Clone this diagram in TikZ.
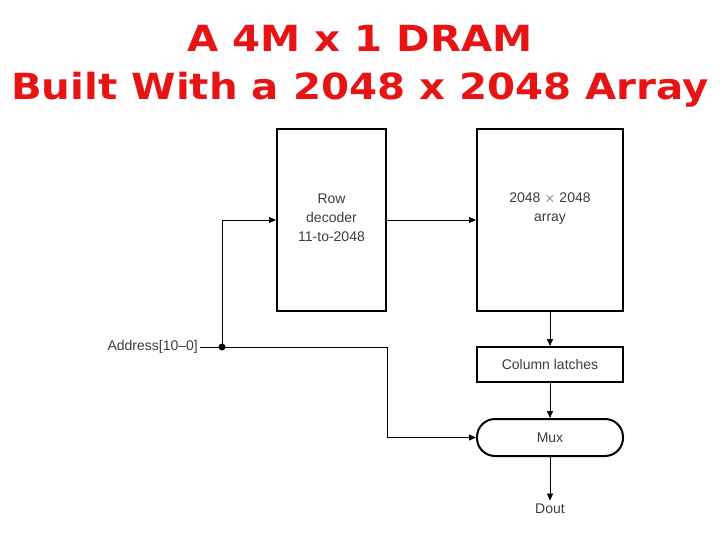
\documentclass[tikz,border=0pt]{standalone}
\usepackage{fontspec}
\setmainfont{Liberation Sans}
\newfontfamily\titlefont{DejaVu Sans}
\usetikzlibrary{arrows.meta}
\definecolor{titlered}{RGB}{230,20,20}
\definecolor{txt}{RGB}{60,60,60}
\begin{document}
\begin{tikzpicture}[x=1pt,y=-1pt,
  blk/.style={draw,line width=2pt,inner sep=0pt},
  lbl/.style={font=\fontsize{14}{19}\selectfont,text=txt,align=center},
  conn/.style={line width=0.8pt,-{Triangle[length=7pt,width=6pt]}},
  wire/.style={line width=0.8pt},
  ttl/.style={font=\titlefont\bfseries\fontsize{36}{38}\selectfont,text=titlered,xscale=1.12}]
\useasboundingbox (0,0) rectangle (720,540);
\node[ttl] (t1) at (360,38) {A 4M x 1 DRAM};
\node[ttl] (t2) at (360,90) {Built With a 2048 x 2048 Array};
\node[blk,minimum width=109pt,minimum height=182pt] (rd) at (331.5,220) {};
\node[lbl] at (331.5,218) {Row\\decoder\\11-to-2048};
\node[blk,minimum width=146pt,minimum height=182pt] (ar) at (550,220) {};
\node[lbl] at (550,209) {2048 $\times$ 2048\\array};
\node[blk,minimum width=146pt,minimum height=35pt,lbl] (cl) at (550,364.5) {Column latches};
\node[blk,minimum width=146pt,minimum height=37pt,rounded corners=18pt,lbl] (mx) at (550,437.5) {Mux};
\node[lbl,anchor=east,inner sep=2pt] (addr) at (200,347) {Address[10--0]};
\node[lbl] (dout) at (550,509) {Dout};
\coordinate (dot) at (222,347);
\fill (dot) circle (3.5pt);
\draw[wire] (addr.east) -- (dot);
\draw[conn] (dot) |- (rd.west);
\draw[conn] (dot) -| (387,347) |- (mx.west);
\draw[conn] (rd.east) -- (ar.west);
\draw[conn] (ar.south) -- (cl.north);
\draw[conn] (cl.south) -- (mx.north);
\draw[conn] (mx.south) -- (dout.north);
\end{tikzpicture}
\end{document}
